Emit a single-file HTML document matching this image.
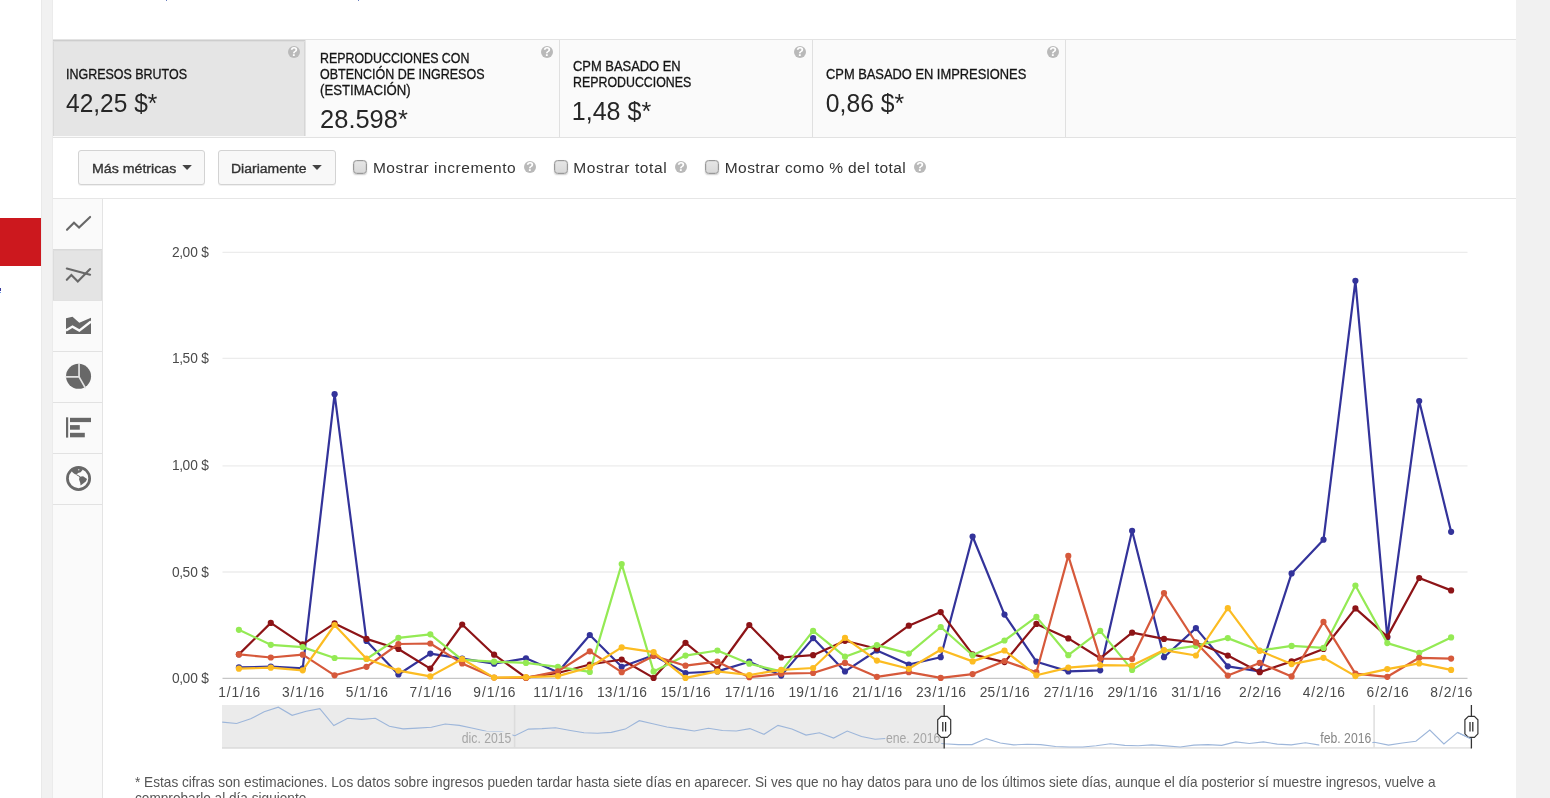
<!DOCTYPE html>
<html lang="es"><head><meta charset="utf-8"><title>YouTube Analytics</title>
<style>
html,body{margin:0;padding:0}
body{width:1550px;height:798px;overflow:hidden;position:relative;background:#fff;font-family:"Liberation Sans",Arial,sans-serif;color:#333}
.abs{position:absolute}
.card{position:absolute;top:40px;height:97px;width:252px;border-right:1px solid #e0e0e0}
.card.sel{height:96px;background:#e5e5e5;box-shadow:inset 0 1px 0 #cdcdcd, inset 0 2px 0 #dddddd, inset 1px 0 0 #d9d9d9, inset -1px 0 0 #d6d6d6;border-right-color:#e6e6e6}
.lbl{position:absolute;font-size:13.75px;line-height:16px;color:#151515;-webkit-text-stroke:0.3px #151515;white-space:nowrap;transform-origin:0 50%}
.val{position:absolute;font-size:25px;line-height:28px;color:#2a2a2a;white-space:nowrap;transform-origin:0 50%}
.help{position:absolute;width:12px;height:12px;border-radius:50%;background:#b9b9b9;color:#fff;font-size:12.5px;font-weight:bold;line-height:12.5px;text-align:center}
.btn{position:absolute;top:150px;height:32.5px;border:1px solid #d3d3d3;border-radius:3px;background:#f8f8f8;box-shadow:0 1px 0 rgba(0,0,0,0.06)}
.btn span{position:absolute;top:9px;font-size:13.25px;line-height:17px;color:#333;white-space:nowrap;transform-origin:0 50%;-webkit-text-stroke:0.35px #333}
.caret{position:absolute;top:165px;width:0;height:0;border-left:4.8px solid transparent;border-right:4.8px solid transparent;border-top:4.8px solid #444}
.cb{position:absolute;top:160px;width:12px;height:12px;border:1px solid #999;border-radius:3.5px;background:linear-gradient(#e6e6e6,#d8d8d8);box-shadow:0 1px 1.5px rgba(0,0,0,0.2), inset 0 0 0 0.5px rgba(0,0,0,0.12)}
.cbl{position:absolute;top:157.8px;font-size:15.5px;line-height:20px;color:#333;white-space:nowrap;transform-origin:0 50%}
.cell{position:absolute;left:53px;width:49px;height:50px;border-bottom:1px solid #e2e2e2}
svg text.val{font-family:"Liberation Sans",Arial,sans-serif;font-size:25.3px;fill:#262626}
svg text.ax{font-family:"Liberation Sans",Arial,sans-serif;font-size:13.75px;fill:#4a4a4a}
svg text.rl{font-family:"Liberation Sans",Arial,sans-serif;font-size:13.75px}
.foot{position:absolute;top:774.5px;font-size:13.75px;line-height:16px;color:#555;white-space:nowrap;transform-origin:0 50%}
</style></head><body>
<div class="abs" style="left:41px;top:0;width:12px;height:798px;background:#f1f1f1;border-left:1px solid #e9e9e9;border-right:1px solid #ebebeb;box-sizing:border-box"></div>
<div class="abs" style="left:1516px;top:0;width:34px;height:798px;background:#f1f1f1"></div>
<div class="abs" style="left:0;top:218px;width:41px;height:48px;background:#cc181e"></div>
<div class="abs" style="left:0;top:288px;width:1px;height:3px;background:#3a3a9e"></div><div class="abs" style="left:0;top:292px;width:1px;height:1px;background:#6a96e2"></div>
<div class="abs" style="left:166px;top:0;width:1px;height:1px;background:#6a7fc0"></div>
<div class="abs" style="left:358px;top:0;width:1px;height:1px;background:#6a7fc0"></div>

<div class="abs" style="left:53px;top:39px;width:1463px;height:97px;background:#fafafa;border-top:1px solid #e3e3e3;border-bottom:1px solid #e2e2e2"></div>
<div class="card sel" style="left:53px;width:252px"><div class="lbl" id="l1" style="top:27px;left:13.05px;transform:scaleX(0.9068)">INGRESOS BRUTOS</div><div class="help" style="left:235px;top:6px">?</div></div>
<div class="card" style="left:306px;width:253px"><div class="lbl" id="l2a" style="top:11px;left:14.15px;transform:scaleX(0.9012)">REPRODUCCIONES CON</div><div class="lbl" id="l2b" style="top:27px;left:14.15px;transform:scaleX(0.9083)">OBTENCIÓN DE INGRESOS</div><div class="lbl" id="l2c" style="top:43px;left:14.12px;transform:scaleX(0.9574)">(ESTIMACIÓN)</div><div class="help" style="left:235px;top:6px">?</div></div>
<div class="card" style="left:560px;width:252px"><div class="lbl" id="l3a" style="top:19px;left:12.83px;transform:scaleX(0.9395)">CPM BASADO EN</div><div class="lbl" id="l3b" style="top:35px;left:12.85px;transform:scaleX(0.9000)">REPRODUCCIONES</div><div class="help" style="left:234px;top:6px">?</div></div>
<div class="card" style="left:813px;width:252px"><div class="lbl" id="l4" style="top:27px;left:12.83px;transform:scaleX(0.9362)">CPM BASADO EN IMPRESIONES</div><div class="help" style="left:234px;top:6px">?</div></div>

<div class="btn" style="left:78px;width:124.5px"><span id="b1" style="left:12.77px;transform:scaleX(1.0692)">Más métricas</span></div>
<div class="btn" style="left:218px;width:115.5px"><span id="b2" style="left:11.54px;transform:scaleX(1.0557)">Diariamente</span></div>

<div class="cb" style="left:353px"></div><div class="cbl" id="c1" style="left:372.90px;letter-spacing:0.547px">Mostrar incremento</div><div class="help" style="left:524px;top:161px">?</div>
<div class="cb" style="left:554px"></div><div class="cbl" id="c2" style="left:573.30px;letter-spacing:0.600px">Mostrar total</div><div class="help" style="left:675px;top:161px">?</div>
<div class="cb" style="left:705px"></div><div class="cbl" id="c3" style="left:724.80px;letter-spacing:0.409px">Mostrar como % del total</div><div class="help" style="left:914px;top:161px">?</div>

<div class="abs" style="left:53px;top:198px;width:1463px;height:1px;background:#e6e6e6"></div>
<div class="abs" style="left:53px;top:199px;width:49px;height:599px;background:#fafafa;border-right:1px solid #e4e4e4"></div>
<div class="cell" style="top:199px"></div>
<div class="cell" style="top:250px;background:#e4e4e4;box-shadow:0 -1px 0 #d9d9d9, inset 0 1px 0 #dedede, inset 1px 0 0 #dcdcdc, inset -1px 0 0 #dcdcdc"></div>
<div class="cell" style="top:301px"></div>
<div class="cell" style="top:352px"></div>
<div class="cell" style="top:403px"></div>
<div class="cell" style="top:454px"></div>

<svg class="abs" style="left:0;top:0" width="1550" height="798" viewBox="0 0 1550 798">
<line x1="222.5" y1="252.4" x2="1467.5" y2="252.4" stroke="#ececec" stroke-width="1.3"/>
<line x1="222.5" y1="358.3" x2="1467.5" y2="358.3" stroke="#ececec" stroke-width="1.3"/>
<line x1="222.5" y1="465.85" x2="1467.5" y2="465.85" stroke="#ececec" stroke-width="1.3"/>
<line x1="222.5" y1="572.0" x2="1467.5" y2="572.0" stroke="#ececec" stroke-width="1.3"/>
<line x1="222.5" y1="678.35" x2="1467.5" y2="678.35" stroke="#c6c6c6" stroke-width="1.25"/>
<text class="ax" y="257.3" x="172.05 179.17 182.47 190.19 197.67 201.32">2,00 $</text>
<text class="ax" y="363.3" x="172.05 179.17 182.47 190.19 197.67 201.32">1,50 $</text>
<text class="ax" y="470.3" x="172.05 179.17 182.47 190.19 197.67 201.32">1,00 $</text>
<text class="ax" y="577.3" x="172.05 179.17 182.47 190.19 197.67 201.32">0,50 $</text>
<text class="ax" y="683.3" x="172.05 179.17 182.47 190.19 197.67 201.32">0,00 $</text>
<text class="ax" y="697.4" x="218.13 226.74 231.52 240.12 244.90 252.62">1/1/16</text>
<text class="ax" y="697.4" x="281.93 290.54 295.32 303.92 308.70 316.42">3/1/16</text>
<text class="ax" y="697.4" x="345.73 354.34 359.12 367.72 372.50 380.22">5/1/16</text>
<text class="ax" y="697.4" x="409.53 418.14 422.92 431.52 436.30 444.02">7/1/16</text>
<text class="ax" y="697.4" x="473.33 481.94 486.72 495.32 500.10 507.82">9/1/16</text>
<text class="ax" y="697.4" x="533.27 540.99 549.60 554.38 562.98 567.76 575.48">11/1/16</text>
<text class="ax" y="697.4" x="597.07 604.79 613.40 618.18 626.78 631.56 639.28">13/1/16</text>
<text class="ax" y="697.4" x="660.87 668.59 677.20 681.98 690.58 695.36 703.08">15/1/16</text>
<text class="ax" y="697.4" x="724.67 732.39 741.00 745.78 754.38 759.16 766.88">17/1/16</text>
<text class="ax" y="697.4" x="788.47 796.19 804.80 809.58 818.18 822.96 830.68">19/1/16</text>
<text class="ax" y="697.4" x="852.27 859.99 868.60 873.38 881.98 886.76 894.48">21/1/16</text>
<text class="ax" y="697.4" x="916.07 923.79 932.40 937.18 945.78 950.56 958.28">23/1/16</text>
<text class="ax" y="697.4" x="979.87 987.59 996.20 1000.98 1009.58 1014.36 1022.08">25/1/16</text>
<text class="ax" y="697.4" x="1043.67 1051.39 1060.00 1064.78 1073.38 1078.16 1085.88">27/1/16</text>
<text class="ax" y="697.4" x="1107.47 1115.19 1123.80 1128.58 1137.18 1141.96 1149.68">29/1/16</text>
<text class="ax" y="697.4" x="1171.27 1178.99 1187.60 1192.38 1200.98 1205.76 1213.48">31/1/16</text>
<text class="ax" y="697.4" x="1238.93 1247.54 1252.32 1260.92 1265.70 1273.42">2/2/16</text>
<text class="ax" y="697.4" x="1302.73 1311.34 1316.12 1324.72 1329.50 1337.22">4/2/16</text>
<text class="ax" y="697.4" x="1366.53 1375.14 1379.92 1388.52 1393.30 1401.02">6/2/16</text>
<text class="ax" y="697.4" x="1430.33 1438.94 1443.72 1452.32 1457.10 1464.82">8/2/16</text>
<polyline fill="none" stroke="#33339a" stroke-width="2.2" stroke-linejoin="round" points="238.9,667.4 270.8,666.7 302.7,668.3 334.6,394.2 366.5,640.9 398.4,674.5 430.3,653.6 462.2,658.6 494.1,663.7 526.0,658.3 557.9,672.2 589.8,635.0 621.7,666.8 653.6,655.2 685.5,673.0 717.4,671.4 749.3,661.7 781.2,675.6 813.1,638.1 845.0,671.4 876.9,650.5 908.8,664.5 940.7,657.2 972.6,536.5 1004.5,614.6 1036.4,661.7 1068.3,671.4 1100.2,670.3 1132.1,530.8 1164.0,657.2 1195.9,628.1 1227.8,666.3 1259.7,671.4 1291.6,573.4 1323.5,539.7 1355.4,280.8 1387.3,637.4 1419.2,401.1 1451.1,531.8"/>
<g fill="#33339a"><circle cx="238.9" cy="667.4" r="3.1"/><circle cx="270.8" cy="666.7" r="3.1"/><circle cx="302.7" cy="668.3" r="3.1"/><circle cx="334.6" cy="394.2" r="3.1"/><circle cx="366.5" cy="640.9" r="3.1"/><circle cx="398.4" cy="674.5" r="3.1"/><circle cx="430.3" cy="653.6" r="3.1"/><circle cx="462.2" cy="658.6" r="3.1"/><circle cx="494.1" cy="663.7" r="3.1"/><circle cx="526.0" cy="658.3" r="3.1"/><circle cx="557.9" cy="672.2" r="3.1"/><circle cx="589.8" cy="635.0" r="3.1"/><circle cx="621.7" cy="666.8" r="3.1"/><circle cx="653.6" cy="655.2" r="3.1"/><circle cx="685.5" cy="673.0" r="3.1"/><circle cx="717.4" cy="671.4" r="3.1"/><circle cx="749.3" cy="661.7" r="3.1"/><circle cx="781.2" cy="675.6" r="3.1"/><circle cx="813.1" cy="638.1" r="3.1"/><circle cx="845.0" cy="671.4" r="3.1"/><circle cx="876.9" cy="650.5" r="3.1"/><circle cx="908.8" cy="664.5" r="3.1"/><circle cx="940.7" cy="657.2" r="3.1"/><circle cx="972.6" cy="536.5" r="3.1"/><circle cx="1004.5" cy="614.6" r="3.1"/><circle cx="1036.4" cy="661.7" r="3.1"/><circle cx="1068.3" cy="671.4" r="3.1"/><circle cx="1100.2" cy="670.3" r="3.1"/><circle cx="1132.1" cy="530.8" r="3.1"/><circle cx="1164.0" cy="657.2" r="3.1"/><circle cx="1195.9" cy="628.1" r="3.1"/><circle cx="1227.8" cy="666.3" r="3.1"/><circle cx="1259.7" cy="671.4" r="3.1"/><circle cx="1291.6" cy="573.4" r="3.1"/><circle cx="1323.5" cy="539.7" r="3.1"/><circle cx="1355.4" cy="280.8" r="3.1"/><circle cx="1387.3" cy="637.4" r="3.1"/><circle cx="1419.2" cy="401.1" r="3.1"/><circle cx="1451.1" cy="531.8" r="3.1"/></g>
<polyline fill="none" stroke="#8d1417" stroke-width="2.2" stroke-linejoin="round" points="238.9,654.4 270.8,622.9 302.7,644.3 334.6,623.4 366.5,638.9 398.4,649.0 430.3,668.6 462.2,624.5 494.1,654.7 526.0,677.6 557.9,673.0 589.8,664.5 621.7,659.5 653.6,677.9 685.5,642.8 717.4,669.0 749.3,625.0 781.2,657.5 813.1,655.2 845.0,640.8 876.9,648.7 908.8,625.7 940.7,612.1 972.6,654.4 1004.5,662.1 1036.4,623.9 1068.3,638.4 1100.2,658.3 1132.1,632.7 1164.0,638.9 1195.9,642.5 1227.8,655.6 1259.7,672.2 1291.6,661.4 1323.5,649.0 1355.4,608.4 1387.3,636.6 1419.2,578.0 1451.1,590.4"/>
<g fill="#8d1417"><circle cx="238.9" cy="654.4" r="3.1"/><circle cx="270.8" cy="622.9" r="3.1"/><circle cx="302.7" cy="644.3" r="3.1"/><circle cx="334.6" cy="623.4" r="3.1"/><circle cx="366.5" cy="638.9" r="3.1"/><circle cx="398.4" cy="649.0" r="3.1"/><circle cx="430.3" cy="668.6" r="3.1"/><circle cx="462.2" cy="624.5" r="3.1"/><circle cx="494.1" cy="654.7" r="3.1"/><circle cx="526.0" cy="677.6" r="3.1"/><circle cx="557.9" cy="673.0" r="3.1"/><circle cx="589.8" cy="664.5" r="3.1"/><circle cx="621.7" cy="659.5" r="3.1"/><circle cx="653.6" cy="677.9" r="3.1"/><circle cx="685.5" cy="642.8" r="3.1"/><circle cx="717.4" cy="669.0" r="3.1"/><circle cx="749.3" cy="625.0" r="3.1"/><circle cx="781.2" cy="657.5" r="3.1"/><circle cx="813.1" cy="655.2" r="3.1"/><circle cx="845.0" cy="640.8" r="3.1"/><circle cx="876.9" cy="648.7" r="3.1"/><circle cx="908.8" cy="625.7" r="3.1"/><circle cx="940.7" cy="612.1" r="3.1"/><circle cx="972.6" cy="654.4" r="3.1"/><circle cx="1004.5" cy="662.1" r="3.1"/><circle cx="1036.4" cy="623.9" r="3.1"/><circle cx="1068.3" cy="638.4" r="3.1"/><circle cx="1100.2" cy="658.3" r="3.1"/><circle cx="1132.1" cy="632.7" r="3.1"/><circle cx="1164.0" cy="638.9" r="3.1"/><circle cx="1195.9" cy="642.5" r="3.1"/><circle cx="1227.8" cy="655.6" r="3.1"/><circle cx="1259.7" cy="672.2" r="3.1"/><circle cx="1291.6" cy="661.4" r="3.1"/><circle cx="1323.5" cy="649.0" r="3.1"/><circle cx="1355.4" cy="608.4" r="3.1"/><circle cx="1387.3" cy="636.6" r="3.1"/><circle cx="1419.2" cy="578.0" r="3.1"/><circle cx="1451.1" cy="590.4" r="3.1"/></g>
<polyline fill="none" stroke="#94ea54" stroke-width="2.2" stroke-linejoin="round" points="238.9,629.8 270.8,644.8 302.7,647.1 334.6,658.0 366.5,659.0 398.4,637.8 430.3,634.3 462.2,659.8 494.1,661.7 526.0,662.9 557.9,666.8 589.8,671.9 621.7,564.1 653.6,671.4 685.5,655.6 717.4,650.5 749.3,663.7 781.2,671.4 813.1,630.9 845.0,656.7 876.9,645.1 908.8,653.6 940.7,627.0 972.6,655.2 1004.5,640.5 1036.4,616.9 1068.3,655.2 1100.2,630.9 1132.1,669.9 1164.0,650.5 1195.9,645.9 1227.8,638.1 1259.7,650.5 1291.6,645.9 1323.5,647.9 1355.4,585.5 1387.3,643.1 1419.2,652.8 1451.1,637.4"/>
<g fill="#94ea54"><circle cx="238.9" cy="629.8" r="3.1"/><circle cx="270.8" cy="644.8" r="3.1"/><circle cx="302.7" cy="647.1" r="3.1"/><circle cx="334.6" cy="658.0" r="3.1"/><circle cx="366.5" cy="659.0" r="3.1"/><circle cx="398.4" cy="637.8" r="3.1"/><circle cx="430.3" cy="634.3" r="3.1"/><circle cx="462.2" cy="659.8" r="3.1"/><circle cx="494.1" cy="661.7" r="3.1"/><circle cx="526.0" cy="662.9" r="3.1"/><circle cx="557.9" cy="666.8" r="3.1"/><circle cx="589.8" cy="671.9" r="3.1"/><circle cx="621.7" cy="564.1" r="3.1"/><circle cx="653.6" cy="671.4" r="3.1"/><circle cx="685.5" cy="655.6" r="3.1"/><circle cx="717.4" cy="650.5" r="3.1"/><circle cx="749.3" cy="663.7" r="3.1"/><circle cx="781.2" cy="671.4" r="3.1"/><circle cx="813.1" cy="630.9" r="3.1"/><circle cx="845.0" cy="656.7" r="3.1"/><circle cx="876.9" cy="645.1" r="3.1"/><circle cx="908.8" cy="653.6" r="3.1"/><circle cx="940.7" cy="627.0" r="3.1"/><circle cx="972.6" cy="655.2" r="3.1"/><circle cx="1004.5" cy="640.5" r="3.1"/><circle cx="1036.4" cy="616.9" r="3.1"/><circle cx="1068.3" cy="655.2" r="3.1"/><circle cx="1100.2" cy="630.9" r="3.1"/><circle cx="1132.1" cy="669.9" r="3.1"/><circle cx="1164.0" cy="650.5" r="3.1"/><circle cx="1195.9" cy="645.9" r="3.1"/><circle cx="1227.8" cy="638.1" r="3.1"/><circle cx="1259.7" cy="650.5" r="3.1"/><circle cx="1291.6" cy="645.9" r="3.1"/><circle cx="1323.5" cy="647.9" r="3.1"/><circle cx="1355.4" cy="585.5" r="3.1"/><circle cx="1387.3" cy="643.1" r="3.1"/><circle cx="1419.2" cy="652.8" r="3.1"/><circle cx="1451.1" cy="637.4" r="3.1"/></g>
<polyline fill="none" stroke="#d6593b" stroke-width="2.2" stroke-linejoin="round" points="238.9,654.3 270.8,657.5 302.7,654.7 334.6,675.3 366.5,666.8 398.4,644.0 430.3,643.5 462.2,663.4 494.1,677.6 526.0,677.9 557.9,671.4 589.8,651.3 621.7,672.2 653.6,655.9 685.5,665.7 717.4,661.7 749.3,677.2 781.2,673.7 813.1,673.0 845.0,662.9 876.9,676.8 908.8,672.2 940.7,677.9 972.6,674.1 1004.5,661.0 1036.4,672.2 1068.3,555.9 1100.2,658.6 1132.1,659.0 1164.0,593.1 1195.9,642.5 1227.8,675.6 1259.7,662.9 1291.6,676.4 1323.5,621.9 1355.4,673.7 1387.3,676.8 1419.2,657.8 1451.1,658.6"/>
<g fill="#d6593b"><circle cx="238.9" cy="654.3" r="3.1"/><circle cx="270.8" cy="657.5" r="3.1"/><circle cx="302.7" cy="654.7" r="3.1"/><circle cx="334.6" cy="675.3" r="3.1"/><circle cx="366.5" cy="666.8" r="3.1"/><circle cx="398.4" cy="644.0" r="3.1"/><circle cx="430.3" cy="643.5" r="3.1"/><circle cx="462.2" cy="663.4" r="3.1"/><circle cx="494.1" cy="677.6" r="3.1"/><circle cx="526.0" cy="677.9" r="3.1"/><circle cx="557.9" cy="671.4" r="3.1"/><circle cx="589.8" cy="651.3" r="3.1"/><circle cx="621.7" cy="672.2" r="3.1"/><circle cx="653.6" cy="655.9" r="3.1"/><circle cx="685.5" cy="665.7" r="3.1"/><circle cx="717.4" cy="661.7" r="3.1"/><circle cx="749.3" cy="677.2" r="3.1"/><circle cx="781.2" cy="673.7" r="3.1"/><circle cx="813.1" cy="673.0" r="3.1"/><circle cx="845.0" cy="662.9" r="3.1"/><circle cx="876.9" cy="676.8" r="3.1"/><circle cx="908.8" cy="672.2" r="3.1"/><circle cx="940.7" cy="677.9" r="3.1"/><circle cx="972.6" cy="674.1" r="3.1"/><circle cx="1004.5" cy="661.0" r="3.1"/><circle cx="1036.4" cy="672.2" r="3.1"/><circle cx="1068.3" cy="555.9" r="3.1"/><circle cx="1100.2" cy="658.6" r="3.1"/><circle cx="1132.1" cy="659.0" r="3.1"/><circle cx="1164.0" cy="593.1" r="3.1"/><circle cx="1195.9" cy="642.5" r="3.1"/><circle cx="1227.8" cy="675.6" r="3.1"/><circle cx="1259.7" cy="662.9" r="3.1"/><circle cx="1291.6" cy="676.4" r="3.1"/><circle cx="1323.5" cy="621.9" r="3.1"/><circle cx="1355.4" cy="673.7" r="3.1"/><circle cx="1387.3" cy="676.8" r="3.1"/><circle cx="1419.2" cy="657.8" r="3.1"/><circle cx="1451.1" cy="658.6" r="3.1"/></g>
<polyline fill="none" stroke="#fcbc22" stroke-width="2.2" stroke-linejoin="round" points="238.9,668.7 270.8,667.7 302.7,670.3 334.6,625.0 366.5,658.7 398.4,670.6 430.3,676.4 462.2,659.0 494.1,677.6 526.0,677.2 557.9,676.1 589.8,667.2 621.7,647.4 653.6,652.1 685.5,677.9 717.4,671.4 749.3,675.0 781.2,669.9 813.1,668.0 845.0,637.8 876.9,660.6 908.8,668.8 940.7,649.7 972.6,661.4 1004.5,650.5 1036.4,675.3 1068.3,667.6 1100.2,665.2 1132.1,665.5 1164.0,650.1 1195.9,655.5 1227.8,608.2 1259.7,650.8 1291.6,664.1 1323.5,657.8 1355.4,676.1 1387.3,669.1 1419.2,663.4 1451.1,669.9"/>
<g fill="#fcbc22"><circle cx="238.9" cy="668.7" r="3.1"/><circle cx="270.8" cy="667.7" r="3.1"/><circle cx="302.7" cy="670.3" r="3.1"/><circle cx="334.6" cy="625.0" r="3.1"/><circle cx="366.5" cy="658.7" r="3.1"/><circle cx="398.4" cy="670.6" r="3.1"/><circle cx="430.3" cy="676.4" r="3.1"/><circle cx="462.2" cy="659.0" r="3.1"/><circle cx="494.1" cy="677.6" r="3.1"/><circle cx="526.0" cy="677.2" r="3.1"/><circle cx="557.9" cy="676.1" r="3.1"/><circle cx="589.8" cy="667.2" r="3.1"/><circle cx="621.7" cy="647.4" r="3.1"/><circle cx="653.6" cy="652.1" r="3.1"/><circle cx="685.5" cy="677.9" r="3.1"/><circle cx="717.4" cy="671.4" r="3.1"/><circle cx="749.3" cy="675.0" r="3.1"/><circle cx="781.2" cy="669.9" r="3.1"/><circle cx="813.1" cy="668.0" r="3.1"/><circle cx="845.0" cy="637.8" r="3.1"/><circle cx="876.9" cy="660.6" r="3.1"/><circle cx="908.8" cy="668.8" r="3.1"/><circle cx="940.7" cy="649.7" r="3.1"/><circle cx="972.6" cy="661.4" r="3.1"/><circle cx="1004.5" cy="650.5" r="3.1"/><circle cx="1036.4" cy="675.3" r="3.1"/><circle cx="1068.3" cy="667.6" r="3.1"/><circle cx="1100.2" cy="665.2" r="3.1"/><circle cx="1132.1" cy="665.5" r="3.1"/><circle cx="1164.0" cy="650.1" r="3.1"/><circle cx="1195.9" cy="655.5" r="3.1"/><circle cx="1227.8" cy="608.2" r="3.1"/><circle cx="1259.7" cy="650.8" r="3.1"/><circle cx="1291.6" cy="664.1" r="3.1"/><circle cx="1323.5" cy="657.8" r="3.1"/><circle cx="1355.4" cy="676.1" r="3.1"/><circle cx="1387.3" cy="669.1" r="3.1"/><circle cx="1419.2" cy="663.4" r="3.1"/><circle cx="1451.1" cy="669.9" r="3.1"/></g>
<rect x="222" y="705" width="722" height="43" fill="#ebebeb"/>
<rect x="222" y="747" width="722" height="1.8" fill="#dedede"/><rect x="944" y="747" width="527" height="1.8" fill="#e6e6e6"/>
<line x1="514.6" y1="705" x2="514.6" y2="748" stroke="#dcdcdc" stroke-width="1.6"/>
<line x1="1374.1" y1="705" x2="1374.1" y2="748" stroke="#e0e0e0" stroke-width="1.6"/>
<polyline fill="none" stroke="#9db6da" stroke-width="1.1" points="222.2,722.1 236.6,723.5 250.7,718.8 264.2,711.8 278.3,707.2 292.1,715.3 306.2,711.3 319.8,708.6 333.8,725.6 347.7,718.3 361.8,719.4 375.3,718.3 389.4,726.2 403,728.9 417.3,728.1 431.4,727.2 445.2,724 459.3,725.4 472.9,728.3 486.4,731.3 501.3,731.6 514.9,735.7 528.4,729.1 542,728.6 555.5,727.8 570.4,730.5 584,732.7 597.5,733.2 611.3,732.4 625.2,729.1 639.3,720.7 652.8,723.7 666.9,727 680.5,728.9 694.3,731 708.4,728.3 722.5,730.5 736.3,731 749.9,728.6 764,734.3 778,725.4 791.9,728.9 806,735.1 819.5,732.7 833.6,738.1 847.2,731 861.5,736.5 875.1,739.2 889,738.2 902.9,741 916.8,739.5 930.5,742.5 944.2,743.8 958.3,744.6 972.1,744.6 986.2,738.6 1000.3,743 1013.6,744.9 1027.1,744.3 1040.7,744.6 1055.6,746.5 1069.1,747 1082.7,747 1096.2,745.7 1110.3,743.8 1124.7,745.4 1138.2,745.7 1151.8,744.9 1165.9,745.9 1180.2,747 1193.8,745.1 1207.9,744.6 1221.7,745.4 1235.8,741.9 1249.3,743.5 1263.4,741.9 1277.2,744.1 1291.3,744.9 1305.4,742.7 1319.8,745.1 1333.5,744.5 1347.3,743 1361,744.5 1374.5,742.3 1388.5,745.1 1402.4,743 1415.9,741.3 1429.8,730 1443.9,743.9 1457.6,732.4 1471.4,739"/>
<rect x="460.4" y="731.5" width="52" height="14.5" fill="#ebebeb"/><text class="rl" fill="#a6a6a6" transform="translate(511.4,742.9) scale(0.89,1)" text-anchor="end">dic. 2015</text>
<rect x="885.3" y="731.5" width="56" height="14.5" fill="#ebebeb"/><text class="rl" fill="#a6a6a6" transform="translate(940.3,742.9) scale(0.89,1)" text-anchor="end">ene. 2016</text>
<rect x="1319.3" y="731.5" width="53" height="14.5" fill="#ffffff"/><text class="rl" fill="#868686" transform="translate(1371.3,742.9) scale(0.89,1)" text-anchor="end">feb. 2016</text>
<line x1="944.2" y1="705" x2="944.2" y2="748.5" stroke="#333" stroke-width="1.3"/><path d="M941.2,716.3 h6 l3.5,3.5 v14 l-3.5,3.5 h-6 l-3.5,-3.5 v-14 z" fill="#fff" stroke="#333" stroke-width="1.2"/><path d="M942.8000000000001,722 v9.4 M945.6,722 v9.4" stroke="#2a2a2a" stroke-width="1.25" fill="none"/>
<line x1="1471.4" y1="705" x2="1471.4" y2="748.5" stroke="#333" stroke-width="1.3"/><path d="M1468.4,716.3 h6 l3.5,3.5 v14 l-3.5,3.5 h-6 l-3.5,-3.5 v-14 z" fill="#fff" stroke="#333" stroke-width="1.2"/><path d="M1470.0,722 v9.4 M1472.8000000000002,722 v9.4" stroke="#2a2a2a" stroke-width="1.25" fill="none"/>
<polyline fill="none" stroke="#9db6da" stroke-width="1.1" points="1457.6,732.4 1471.4,739"/>
<polygon points="182.3,165 191.9,165 187.1,169.9" fill="#444"/><polygon points="312.2,165 321.8,165 317,169.9" fill="#444"/>
<polyline points="67,229.8 74,222.8 79.05,227.6 90.1,216.9" fill="none" stroke="#686868" stroke-width="2.1" stroke-linecap="round" stroke-linejoin="miter"/>
<polyline points="66.8,279.8 71.4,275.05 77.8,281.6 90.1,269" fill="none" stroke="#686868" stroke-width="2.1" stroke-linecap="round" stroke-linejoin="miter"/>
<line x1="66.8" y1="268.5" x2="90.1" y2="274.8" stroke="#686868" stroke-width="2.1" stroke-linecap="round"/>
<polygon points="66,318.3 72.5,316.8 79.3,322.8 91,317.8 91,334.1 66,334.1" fill="#686868"/>
<polyline points="66,330.6 72.5,326.6 79.3,330.6 91,321.5" fill="none" stroke="#fafafa" stroke-width="2.4"/>
<circle cx="78.55" cy="376.3" r="12.5" fill="#686868"/>
<path d="M79.05,363 V376.95 H65.5 M79.05,376.95 L85.6,388.3" fill="none" stroke="#e4e4e4" stroke-width="1.7"/>
<rect x="66" y="417.3" width="2.2" height="20.3" fill="#686868"/><rect x="70" y="417.8" width="21" height="4.3" fill="#686868"/><rect x="70" y="425.1" width="9.8" height="4.6" fill="#686868"/><rect x="70" y="432.8" width="14.8" height="4.5" fill="#686868"/>
<circle cx="78.55" cy="478.45" r="11.1" fill="none" stroke="#686868" stroke-width="2.75"/>
<path d="M71.0,470.6 L73.0,468.6 L78.0,467.6 L83.0,469.6 L80.6,472.3 L78.05,473.0 L76.55,474.5 L75.0,474.3 L73.0,472.8 Z" fill="#686868"/>
<path d="M76.5,474.7 L80,476.7" stroke="#686868" stroke-width="1" fill="none"/>
<path d="M79.55,476.8 L83.06,476.3 L87.07,479.05 L85.8,481.6 L82.6,484.1 L80.5,485.6 L80.3,483.1 L79.05,479.5 Z" fill="#686868"/>
<circle cx="78.7" cy="469.8" r="0.8" fill="#cfcfcf"/>
<text id="v1" class="val" transform="translate(66.02,112) scale(0.9691,1)">42,25 $*</text>
<text id="v2" class="val" transform="translate(320.10,128) scale(1.0058,1)">28.598*</text>
<text id="v3" class="val" transform="translate(571.82,120) scale(0.9897,1)">1,48 $*</text>
<text id="v4" class="val" transform="translate(825.81,112) scale(0.9772,1)">0,86 $*</text>
</svg>

<div class="foot" id="f1" style="left:135.20px;transform:scaleX(0.9916)">* Estas cifras son estimaciones. Los datos sobre ingresos pueden tardar hasta siete días en aparecer. Si ves que no hay datos para uno de los últimos siete días, aunque el día posterior sí muestre ingresos, vuelve a<br>comprobarlo al día siguiente.</div>
</body></html>
